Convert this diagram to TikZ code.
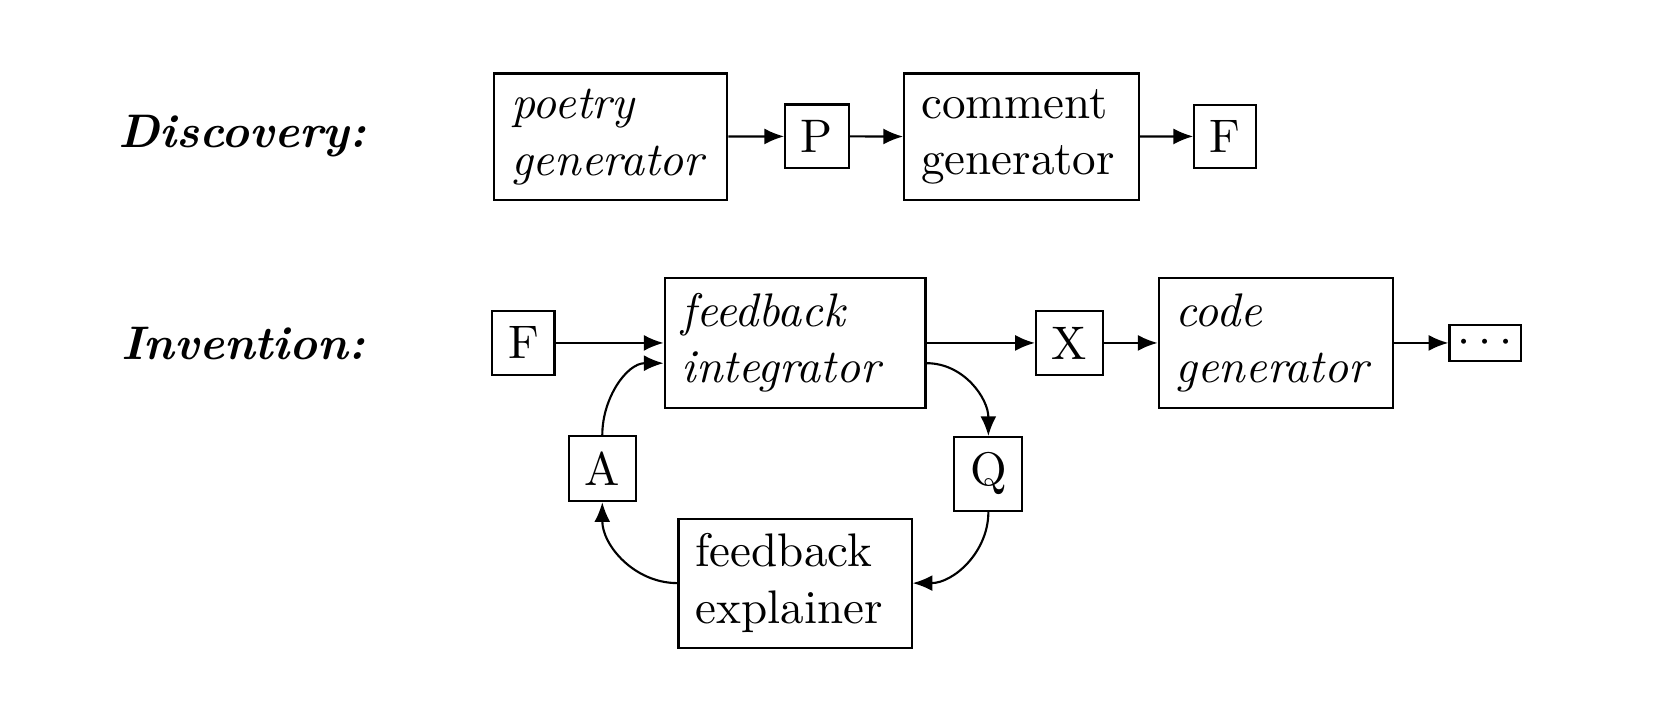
\documentclass[tikz,border=0pt]{standalone}
\usetikzlibrary{arrows.meta}
\begin{document}
\begin{tikzpicture}[x=0.2262pt,y=-0.2262pt,
  bigbox/.style={draw, line width=0.45pt, align=left, inner xsep=3.6pt, inner ysep=0pt},
  smallbox/.style={draw, line width=0.45pt, inner sep=3.33pt},
  conn/.style={line width=0.45pt, -{Latex[length=4.2pt,width=3.4pt]}},
  rowlabel/.style={anchor=west, inner sep=0pt, font=\bfseries\itshape}]
\useasboundingbox (0,0) rectangle (1568,662);

% labels
\node[rowlabel] (ld) at (110,128) {Discovery:};
\node[rowlabel] (li) at (113,323) {Invention:};

% discovery row
\node[bigbox, text width=42.3pt, minimum height=26.9pt] (pg) at (573.5,128.5) {\itshape poetry\\ \itshape generator};
\node[smallbox] (P) at (767,128) {P};
\node[bigbox, text width=42.6pt, minimum height=26.9pt] (cg) at (959,128.5) {comment\\generator};
\node[smallbox] (F1) at (1150.5,128) {F};

\draw[conn] (pg) -- (P);
\draw[conn] (P) -- (cg);
\draw[conn] (cg) -- (F1);

% invention row
\node[smallbox] (F2) at (491.5,322) {F};
\node[bigbox, text width=48.2pt, minimum height=27.6pt] (fi) at (746.5,322) {\itshape feedback\\ \itshape integrator};
\node[smallbox] (X) at (1004,322) {X};
\node[bigbox, text width=42.6pt, minimum height=27.6pt] (code) at (1198,322) {\itshape code\\ \itshape generator};
\node[draw, line width=0.45pt, minimum width=15.2pt, minimum height=7.7pt, inner sep=0pt] (dots) at (1394.5,322) {$\cdots$};
\node[smallbox] (A) at (565.5,440) {A};
\node[smallbox] (Q) at (928,445) {Q};
\node[bigbox, text width=42.3pt, minimum height=27.4pt] (fe) at (746.5,547.5) {feedback\\explainer};

\draw[conn] (F2) -- (fi);
\draw[conn] (fi) -- (X);
\draw[conn] (X) -- (code);
\draw[conn] (code) -- (dots);

\draw[conn] (A.north) to[out=90,in=180] ([yshift=-4.3pt]fi.west);
\draw[conn] ([yshift=-4.3pt]fi.east) to[out=0,in=90] (Q.north);
\draw[conn] (Q.south) to[out=-90,in=0] (fe.east);
\draw[conn] (fe.west) to[out=180,in=-90] (A.south);
\end{tikzpicture}
\end{document}
